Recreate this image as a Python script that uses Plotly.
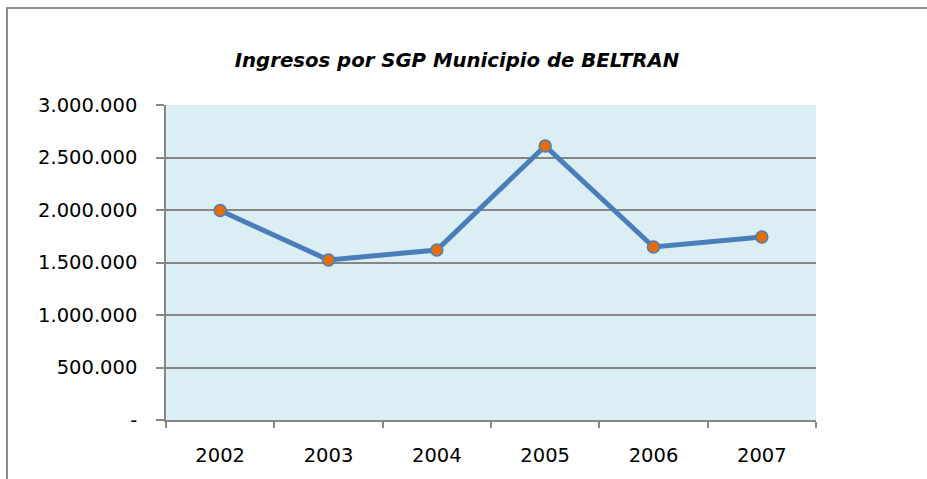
import plotly.graph_objects as go

years = ["2002", "2003", "2004", "2005", "2006", "2007"]
ingresos = [1995000, 1524000, 1619000, 2610000, 1648000, 1743000]

y_tickvals = [0, 500000, 1000000, 1500000, 2000000, 2500000, 3000000]
y_ticktext = ["-", "500.000", "1.000.000", "1.500.000", "2.000.000", "2.500.000", "3.000.000"]

W, H = 927, 479
L, R, T, B = 166, 816, 105, 420


def px_x(x):
    return (x - L) / (R - L)


def px_y(y):
    return (B - y) / (B - T)


fig = go.Figure()
fig.add_trace(go.Scatter(
    x=years, y=ingresos,
    mode='lines+markers',
    line=dict(color='#4A7EBB', width=5),
    marker=dict(color='#E46C0A', size=12, line=dict(color='#4A7EBB', width=1.5)),
    showlegend=False,
))

# outer chart border (left and top sides visible)
fig.add_shape(type='path', xref='paper', yref='paper',
              path=f'M {px_x(7)} {px_y(490)} L {px_x(7)} {px_y(8)} L {px_x(940)} {px_y(8)}',
              line=dict(color='#8C8C8C', width=2))

fig.update_layout(
    width=W, height=H,
    margin=dict(l=L, r=W - R, t=T, b=H - B),
    paper_bgcolor='white',
    plot_bgcolor='#DBEEF4',
    title=dict(text='<b><i>Ingresos por SGP Municipio de BELTRAN</i></b>',
               x=457 / W, xanchor='center', y=1 - 60 / H, yanchor='middle',
               yref='container',
               font=dict(family='DejaVu Sans', size=19.7, color='black')),
    font=dict(family='DejaVu Sans', size=19.5, color='black'),
    xaxis=dict(type='category', tickson='boundaries', range=[-0.5, 5.5],
               showgrid=False, ticks='outside', ticklen=6, tickcolor='#868686',
               tickwidth=1.5, showline=True, linecolor='#868686', linewidth=1.5,
               ticklabelstandoff=17),
    yaxis=dict(range=[0, 3000000], tickvals=y_tickvals, ticktext=y_ticktext,
               showgrid=True, gridcolor='#868686', gridwidth=1.5,
               ticks='outside', ticklen=8, tickcolor='#868686', tickwidth=1.5,
               showline=True, linecolor='#868686', linewidth=1.5,
               zeroline=False, ticklabelstandoff=15),
)

fig.write_html("out.html", config={'displayModeBar': False},
               post_script="document.body.style.margin='0';")
